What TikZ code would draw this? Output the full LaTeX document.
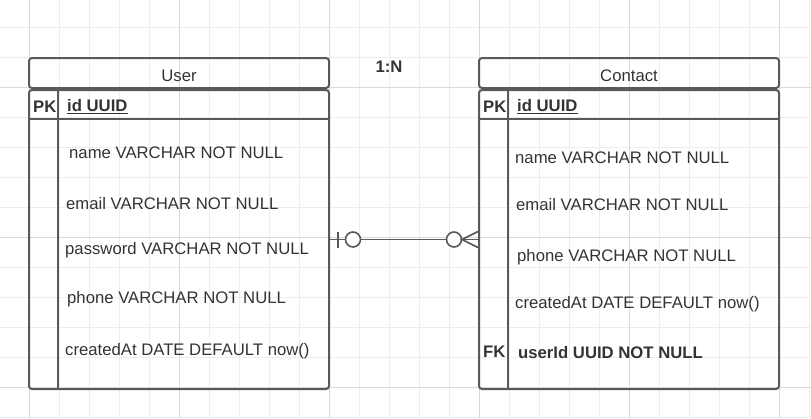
\documentclass[tikz,border=0pt]{standalone}
\usepackage{fontspec}
\setmainfont{Liberation Sans}
\usetikzlibrary{positioning}
\definecolor{linegray}{HTML}{595959}
\definecolor{textgray}{HTML}{333333}
\definecolor{gridminor}{HTML}{EDEDED}
\definecolor{gridmajor}{HTML}{D9D9D9}
\tikzset{
  x=1pt, y=-1pt,
  tablefont/.style={font=\fontsize{16.7}{19}\selectfont},
  tablehead/.style={draw=linegray, line width=2pt, rounded corners=3pt,
    minimum width=300pt, minimum height=30pt, inner sep=0pt, text=textgray, tablefont,
    text height=16pt, text depth=0pt},
  tablebody/.style={draw=linegray, line width=2pt, rounded corners=3pt,
    minimum width=300pt, minimum height=299pt, inner sep=0pt},
  tableline/.style={draw=linegray, line width=2pt},
  field/.style={anchor=west, inner sep=0pt, text=textgray, tablefont, yshift=-2.5pt},
  keyfield/.style={field, font=\fontsize{16.7}{19}\selectfont\bfseries},
  relline/.style={draw=linegray, line width=1.6pt},
}

\begin{document}
\begin{tikzpicture}
  \useasboundingbox (0,0) rectangle (811,418);
  % background grid
  \foreach \gx in {0,...,26}
    \draw[gridminor, line width=1pt] (29.5+30*\gx,0) -- (29.5+30*\gx,418);
  \foreach \gy in {27,57,...,417}
    \draw[gridminor, line width=1pt] (0,\gy) -- (811,\gy);
  \foreach \gx in {29.5,179.5,...,779.5}
    \draw[gridmajor, line width=1pt] (\gx,0) -- (\gx,418);
  \foreach \gy in {87,237,387}
    \draw[gridmajor, line width=1pt] (0,\gy) -- (811,\gy);

  % tables
  \node[tablehead]                        (user)        at (179,73) {User};
  \node[tablebody, below=0pt of user]     (userbody)    {};
  \node[tablehead]                        (contact)     at (629,73) {Contact};
  \node[tablebody, below=0pt of contact]  (contactbody) {};

  \foreach \tb in {userbody, contactbody} {
    \draw[tableline] ([yshift=-30]\tb.north west) -- ([yshift=-30]\tb.north east);
    \draw[tableline] ([xshift=30]\tb.north west) -- ([xshift=30]\tb.south west);
  }

  % User fields
  \node[keyfield] (userpk)    at (33,104)  {PK};
  \node[keyfield] (userid)    at (67,104)  {\underline{id UUID}};
  \node[field]    (username)  at (69,150)  {name VARCHAR NOT NULL};
  \node[field]    (useremail) at (66,201)  {email VARCHAR NOT NULL};
  \node[field]    (userpass)  at (65,248)  {password VARCHAR NOT NULL};
  \node[field]    (userphone) at (67,297)  {phone VARCHAR NOT NULL};
  \node[field]    (usercrt)   at (65,349)  {createdAt DATE DEFAULT now()};

  % Contact fields
  \node[keyfield] (contpk)    at (483,104) {PK};
  \node[keyfield] (contid)    at (517,104) {\underline{id UUID}};
  \node[field]    (contname)  at (515,155) {name VARCHAR NOT NULL};
  \node[field]    (contemail) at (516,202) {email VARCHAR NOT NULL};
  \node[field]    (contphone) at (517,255) {phone VARCHAR NOT NULL};
  \node[field]    (contcrt)   at (515,302) {createdAt DATE DEFAULT now()};
  \node[keyfield] (contfk)    at (483,349) {FK};
  \node[keyfield] (contuser)  at (518,350) {userId UUID NOT NULL};

  \node[keyfield, anchor=center] (ratio) at (389,64) {1:N};

  % relation
  \draw[relline] (userbody.east) -- (contactbody.west);
  \draw[relline] ([xshift=8,yshift=8]userbody.east) -- ([xshift=8,yshift=-8]userbody.east);
  \draw[relline, fill=white] ([xshift=23]userbody.east) circle[radius=7.5];
  \draw[relline, fill=white] ([xshift=-24]contactbody.west) circle[radius=7.5];
  \draw[relline] ([yshift=8]contactbody.west) -- ([xshift=-16]contactbody.west)
                 -- ([yshift=-8]contactbody.west);
\end{tikzpicture}
\end{document}
